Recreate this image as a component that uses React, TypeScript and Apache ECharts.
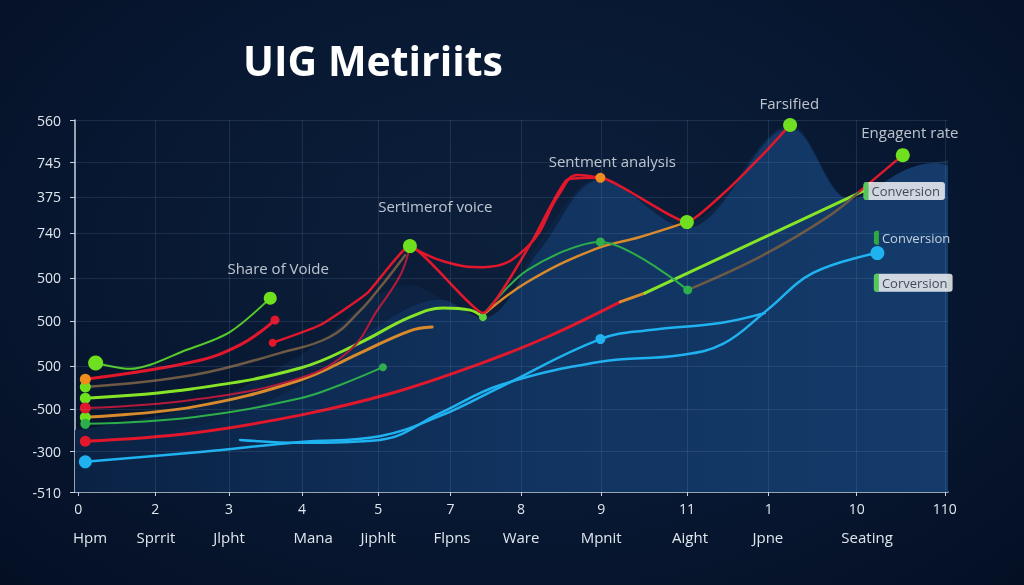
import React, { useEffect, useRef } from "react";
import * as echarts from "echarts";

// ---------- axis labels ----------
const xNumLabels = ["0", "2", "3", "4", "5", "7", "8", "9", "11", "1", "10", "110"];
const xTickPos = [0.4, 10.1, 19.4, 28.6, 38.2, 47.3, 56.2, 66.3, 77.1, 87.4, 98.5, 109.6];
const xNameLabels = ["Hpm", "Sprrit", "Jlpht", "Mana", "Jiphlt", "Flpns", "Ware", "Mpnit", "Aight", "Jpne", "Seating"];
const xNamePos = [1.9, 10.2, 19.4, 30.0, 38.2, 47.5, 56.2, 66.3, 77.5, 87.3, 99.8];
const yLabels = ["-510", "-300", "-500", "500", "500", "500", "740", "375", "745", "560"];
const yTickPos = [0, 9.9, 20.1, 30.5, 41.4, 51.8, 62.7, 71.4, 79.8, 90];

// ---------- background areas ----------
const areaShadow = [[0, 15.0], [15.8, 21.1], [28.4, 33.1], [42.2, 50.1], [51.4, 40.4], [58.6, 61.0], [66.2, 76.0], [77.1, 65.3], [90.1, 88.8], [97.7, 71.1], [104.6, 77.9], [110, 80.3]];
const areaMain = [[0, 11.4], [15.8, 16.2], [28.4, 25.9], [38.4, 40.4], [46.0, 46.5], [51.4, 42.1], [58.6, 58.6], [66.2, 75.5], [77.1, 63.9], [90.1, 88.1], [97.7, 70.7], [104.6, 77.9], [108.4, 79.6], [110, 78.9]];

// ---------- lines ----------
const cyanA = [[1.3, 7.3], [15.8, 9.7], [28.4, 12.1], [38.4, 13.5], [46.0, 18.4], [53.6, 25.4], [66.2, 37.0], [72.5, 39.2], [81.3, 40.9], [86.9, 43.3]];
const cyanB = [[20.8, 12.6], [28.4, 11.9], [38.4, 12.6], [46.0, 19.1], [53.6, 25.9], [66.2, 31.5], [76.2, 33.1], [81.7, 35.9], [87.2, 44.0], [93.0, 53.0], [101.1, 57.8]];
const redLow = [[1.3, 12.3], [14.9, 14.3], [28.4, 18.6], [40.1, 24.0], [51.0, 31.0], [59.5, 37.5], [68.7, 46.0]];
const orangeBit = [[68.7, 46.0], [71.8, 48.1]];
const limeConv = [[71.8, 48.1], [99.3, 72.8]];
const limeMain = [[1.3, 22.7], [14.9, 25.0], [28.4, 30.0], [35.9, 36.1], [42.2, 42.3], [46.4, 44.5], [49.8, 44.0], [51.4, 42.3]];
const redLeft = [[1.3, 27.3], [14.9, 31.5], [20.8, 35.6], [25.2, 41.6]];
const greenShare = [[2.6, 31.2], [6.9, 29.8], [14.1, 34.4], [19.5, 38.7], [24.6, 46.9]];
const brownLeft = [[1.3, 25.4], [14.9, 28.3], [25.8, 33.6], [32.1, 37.5], [35.9, 43.8], [38.4, 49.4], [41.6, 57.3]];
const crimsonLeft = [[1.3, 20.3], [14.9, 22.3], [28.4, 27.6], [34.7, 34.4], [38.1, 44.0], [41.0, 52.5], [42.2, 59.3]];
const orangeLeft = [[1.3, 18.1], [14.9, 20.6], [28.4, 27.1], [35.9, 33.6], [42.2, 39.0], [45.0, 39.9]];
const greenLeft = [[1.3, 16.5], [14.9, 18.1], [28.4, 22.7], [33.4, 25.9], [38.8, 30.2]];
const redPeak = [[24.9, 36.1], [30.9, 40.4], [36.8, 48.1], [42.2, 59.5], [51.4, 43.3], [57.7, 61.0], [62.0, 75.5], [66.2, 76.0], [77.1, 65.3], [82.2, 73.1], [87.2, 82.7], [90.1, 88.8]];
const redCurve = [[42.2, 59.5], [46.6, 55.7], [51.4, 54.4], [57.0, 59.3], [61.1, 72.3], [63.3, 76.7], [66.2, 76.0]];
const orangeMid = [[51.4, 42.8], [57.0, 50.8], [65.3, 58.6], [71.2, 61.7], [77.1, 65.3]];
const greenMid = [[51.4, 42.8], [57.0, 53.7], [66.2, 60.5], [77.2, 48.9]];
const brownRight = [[77.2, 48.9], [86.3, 56.9], [94.8, 66.5], [98.9, 72.8]];
const redEnd = [[98.9, 72.8], [104.3, 81.5]];

// ---------- annotations ----------
const notes = [
  { text: "Share of Voide", at: [25.6, 54.2] },
  { text: "Sertimerof voice", at: [45.4, 69.2] },
  { text: "Sentment analysis", at: [67.7, 80.1] },
  { text: "Farsified", at: [90.0, 94.1] },
  { text: "Engagent rate", at: [105.2, 87.1] },
];
const tags = [
  { text: "Conversion", at: [99.3, 72.8], boxed: true },
  { text: "Conversion", at: [100.6, 61.5], boxed: false },
  { text: "Corversion", at: [100.6, 50.6], boxed: true },
];

const FONT = "'Open Sans', 'Noto Sans', sans-serif";
const C = {
  red: "#e3172b",
  crimson: "#b51a3b",
  lime: "#86e626",
  limeDot: "#6ee01e",
  green: "#55cc2c",
  green2: "#2cae4a",
  orange: "#d98a2b",
  orangeDot: "#f08c1c",
  brown: "#6e5a44",
  cyan: "#1fb2f0",
};

type Mk = Record<number, [number, string]>;

function line(data: number[][], color: string, width: number, smooth: number | boolean, markers: Mk = {}, z = 3) {
  return {
    type: "line",
    data: data.map((p, i) =>
      markers[i]
        ? { value: p, symbol: "circle", symbolSize: markers[i][0], itemStyle: { color: markers[i][1] } }
        : { value: p, symbol: "none" }
    ),
    symbol: "none",
    showAllSymbol: true,
    smooth,
    z,
    lineStyle: { color, width, cap: "round", join: "round" },
    itemStyle: { color },
    silent: true,
  };
}

function nearest(arr: number[], v: number) {
  let bi = 0;
  for (let i = 1; i < arr.length; i++) if (Math.abs(arr[i] - v) < Math.abs(arr[bi] - v)) bi = i;
  return bi;
}

export default function App() {
  const ref = useRef<HTMLDivElement>(null);
  useEffect(() => {
    const chart = echarts.init(ref.current!, null, { renderer: "svg" });
    const grid = { left: 75, right: 76, top: 120, bottom: 93 };
    const option: any = {
      animation: false,
      backgroundColor: "transparent",
      title: {
        text: "UIG Metiriits",
        left: 238,
        top: 34,
        textStyle: { color: "#ffffff", fontSize: 41, fontWeight: 700, fontFamily: "'Open Sans', sans-serif" },
      },
      grid,
      xAxis: [
        {
          type: "value",
          min: 0,
          max: 110,
          axisLine: { show: true, lineStyle: { color: "#c9d3de", width: 1.5 } },
          axisTick: { show: true, customValues: xTickPos, length: 4, lineStyle: { color: "#c9d3de" } },
          axisLabel: {
            customValues: xTickPos,
            color: "#dfe6ee",
            fontSize: 14,
            fontFamily: FONT,
            margin: 9,
            formatter: (v: number) => xNumLabels[nearest(xTickPos, v)],
          },
          splitLine: { show: false },
        },
        {
          type: "value",
          min: 0,
          max: 110,
          position: "bottom",
          offset: 29,
          axisLine: { show: false },
          axisTick: { show: false },
          axisLabel: {
            customValues: xNamePos,
            color: "#dfe6ee",
            fontSize: 15,
            fontFamily: FONT,
            margin: 8,
            formatter: (v: number) => xNameLabels[nearest(xNamePos, v)],
          },
          splitLine: { show: false },
        },
      ],
      yAxis: {
        type: "value",
        min: 0,
        max: 90,
        axisLine: { show: true, lineStyle: { color: "#c9d3de", width: 1.5 } },
        axisTick: { show: true, customValues: yTickPos, length: 5, lineStyle: { color: "#c9d3de" } },
        axisLabel: {
          customValues: yTickPos,
          color: "#dfe6ee",
          fontSize: 14,
          fontFamily: FONT,
          margin: 14,
          formatter: (v: number) => yLabels[nearest(yTickPos, v)],
        },
        splitLine: { show: false },
      },
      series: [
        {
          type: "line",
          data: [[0, 0], [110, 0]],
          symbol: "none",
          lineStyle: { width: 0 },
          silent: true,
          z: 1,
          markLine: {
            silent: true,
            symbol: "none",
            label: { show: false },
            lineStyle: { color: "rgba(130,160,200,0.16)", width: 1, type: "solid" },
            data: [
              ...xTickPos.slice(1).map((v) => ({ xAxis: v })),
              ...yTickPos.slice(1).map((v) => ({ yAxis: v })),
            ],
          },
        },
        {
          type: "line",
          data: areaShadow,
          symbol: "none",
          smooth: 0.35,
          z: 1,
          silent: true,
          lineStyle: { width: 0 },
          areaStyle: { color: "#0c2343", opacity: 1 },
        },
        {
          type: "line",
          data: areaMain,
          symbol: "none",
          smooth: 0.35,
          z: 1,
          silent: true,
          lineStyle: { width: 0 },
          areaStyle: {
            opacity: 1,
            color: new echarts.graphic.LinearGradient(0, 0, 1, 0, [
              { offset: 0, color: "#0a2244" },
              { offset: 0.5, color: "#11335f" },
              { offset: 1, color: "#143b6b" },
            ]),
          },
        },
        line(cyanA, C.cyan, 2.5, 0.4, { 0: [13, C.cyan], 6: [10, C.cyan] }),
        line(cyanB, C.cyan, 2.5, 0.4, { 10: [14, C.cyan] }),
        line(redLow, C.red, 3, 0.4, { 0: [11, C.red] }),
        line(orangeBit, C.orange, 3, false),
        line(limeConv, C.lime, 3, false),
        line(limeMain, C.lime, 3, 0.4, { 0: [11, C.limeDot], 7: [8, "#5bd13a"] }),
        line(orangeLeft, C.orange, 3, 0.4, { 0: [11, C.limeDot] }),
        line(greenLeft, C.green2, 2, 0.4, { 0: [10, C.green2], 4: [8, C.green2] }),
        line(crimsonLeft, C.crimson, 2, 0.4, { 0: [11, C.red] }),
        line(brownLeft, C.brown, 2.5, 0.4, { 0: [11, C.limeDot] }),
        line(redLeft, C.red, 3, 0.4, { 0: [11, C.orangeDot], 3: [9, C.red] }),
        line(greenShare, C.green, 2, 0.3, { 0: [15, C.limeDot], 4: [13, C.limeDot] }),
        line(redCurve, C.red, 2.5, 0.45),
        line(orangeMid, C.orange, 2.5, 0.4),
        line(greenMid, C.green2, 2, 0.3, { 2: [9, C.green2], 3: [9, C.green2] }),
        line(brownRight, C.brown, 2.5, 0.4),
        line(redEnd, C.red, 2.5, false, { 1: [14, C.limeDot] }),
        line(redPeak, C.red, 2.5, 0.15, { 0: [8, C.red], 3: [14, C.limeDot], 7: [10, C.orangeDot], 8: [14, C.limeDot], 11: [14, C.limeDot] }, 4),
        {
          type: "scatter",
          clip: false,
          silent: true,
          z: 6,
          symbolSize: 1,
          itemStyle: { color: "rgba(0,0,0,0)" },
          data: [
            ...notes.map((n) => ({
              value: n.at,
              label: {
                show: true,
                position: "inside",
                formatter: n.text,
                color: "#e8edf3",
                fontSize: 15,
                fontFamily: FONT,
              },
            })),
            ...tags.map((t) => ({
              value: t.at,
              label: {
                show: true,
                position: "right",
                distance: 0,
                formatter: `{bar|}{t|${t.text}}`,
                backgroundColor: t.boxed ? "#ffffff" : "transparent",
                borderRadius: 3,
                padding: [0, 5, 0, 0],
                rich: {
                  bar: {
                    width: 5,
                    height: t.boxed ? 18 : 14,
                    backgroundColor: "#36c43a",
                    borderRadius: [3, 0, 0, 3],
                  },
                  t: {
                    color: t.boxed ? "#1b2330" : "#eef3f8",
                    fontSize: 13,
                    fontFamily: FONT,
                    lineHeight: 18,
                    padding: [0, 0, 0, 3],
                  },
                },
              },
            })),
          ],
        },
      ],
    };
    chart.setOption(option);
    return () => chart.dispose();
  }, []);

  return (
    <div
      style={{
        position: "fixed",
        left: 0,
        top: 0,
        width: 1024,
        height: 585,
        background: "radial-gradient(ellipse at 50% 42%, #0c1f3b 0%, #081832 55%, #040f24 100%)",
      }}
    >
      <div ref={ref} style={{ width: 1024, height: 585 }} />
    </div>
  );
}
